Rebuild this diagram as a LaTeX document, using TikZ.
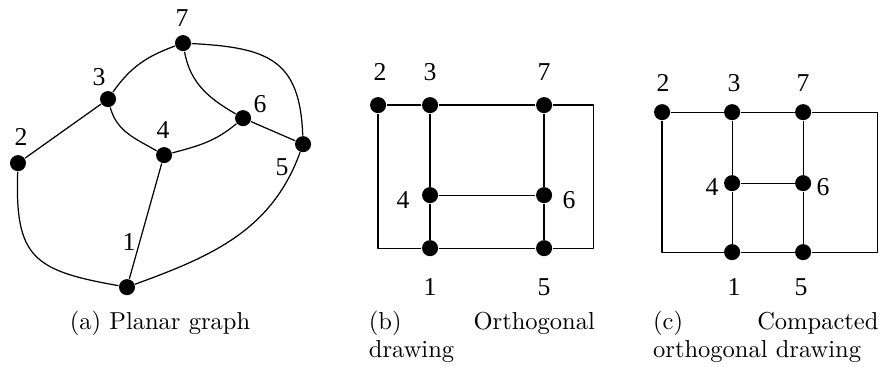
\documentclass[tikz,border=0pt]{standalone}
\usepackage{fontspec}
\newfontfamily\lblfont{Liberation Serif}
\usepackage{tikz}

\tikzset{
  vtx/.style={circle,fill=black,inner sep=0pt,minimum size=2.3mm},
  lbl/.style={font=\lblfont\fontsize{10.5}{12}\selectfont,inner sep=0pt},
  capt/.style={font=\fontsize{10}{11.2}\selectfont,inner sep=0pt,text width=3.24cm,align=left},
}

\begin{document}
\begin{tikzpicture}[line width=0.5pt, line join=round]
  \useasboundingbox (0,0) rectangle (12.66,5.25);
  % (a) planar graph
  \node[vtx] (a1) at (1.821,1.133) {};
  \node[vtx] (a2) at (0.258,2.911) {};
  \node[vtx] (a3) at (1.549,3.829) {};
  \node[vtx] (a4) at (2.352,3.026) {};
  \node[vtx] (a5) at (4.345,3.183) {};
  \node[vtx] (a6) at (3.485,3.556) {};
  \node[vtx] (a7) at (2.624,4.632) {};
  \draw (a2) -- (a3);
  \draw (a3) to[out=55,in=200] (a7);
  \draw (a7) to[out=-80,in=150] (a6);
  \draw (a7) to[out=-3,in=92,looseness=1.35] (a5);
  \draw (a3) to[out=-75,in=150] (a4);
  \draw (a4) to[out=15,in=220] (a6);
  \draw (a6) -- (a5);
  \draw (a4) -- (a1);
  \draw (a2) to[out=-92,in=170,looseness=1.45] (a1);
  \draw (a1) to[out=20,in=250] (a5);
  \node[lbl] (la1) at (1.850,1.778) {1};
  \node[lbl] (la2) at (0.301,3.284) {2};
  \node[lbl] (la3) at (1.420,4.144) {3};
  \node[lbl] (la4) at (2.337,3.384) {4};
  \node[lbl] (la5) at (4.044,2.854) {5};
  \node[lbl] (la6) at (3.728,3.757) {6};
  \node[lbl] (la7) at (2.610,4.990) {7};
  \node[capt,text width=,align=center] (capa) at (2.294,0.617) {(a) Planar graph};

  % (b) orthogonal drawing
  \node[vtx] (b1) at (6.166,1.692) {};
  \node[vtx] (b2) at (5.421,3.743) {};
  \node[vtx] (b3) at (6.166,3.743) {};
  \node[vtx] (b4) at (6.166,2.452) {};
  \node[vtx] (b5) at (7.801,1.692) {};
  \node[vtx] (b6) at (7.801,2.452) {};
  \node[vtx] (b7) at (7.801,3.743) {};
  \coordinate (bne) at (8.504,3.743);
  \coordinate (bse) at (8.504,1.692);
  \coordinate (bsw) at (5.421,1.692);
  \draw (b2) -- (b3) -- (b7) -- (bne) -- (bse) -- (b5) -- (b1) -- (bsw) -- (b2);
  \draw (b3) -- (b4) -- (b1);
  \draw (b7) -- (b6) -- (b5);
  \draw (b4) -- (b6);
  \node[lbl] (lb1) at (6.166,1.133) {1};
  \node[lbl] (lb2) at (5.449,4.216) {2};
  \node[lbl] (lb3) at (6.166,4.216) {3};
  \node[lbl] (lb4) at (5.779,2.380) {4};
  \node[lbl] (lb5) at (7.801,1.133) {5};
  \node[lbl] (lb6) at (8.159,2.380) {6};
  \node[lbl] (lb7) at (7.801,4.216) {7};
  \node[capt] (capb) at (6.91,0.423) {(b)\hfill Orthogonal\\drawing};

  % (c) compacted orthogonal drawing
  \node[vtx] (c1) at (10.497,1.635) {};
  \node[vtx] (c2) at (9.493,3.642) {};
  \node[vtx] (c3) at (10.497,3.642) {};
  \node[vtx] (c4) at (10.497,2.624) {};
  \node[vtx] (c5) at (11.515,1.635) {};
  \node[vtx] (c6) at (11.515,2.624) {};
  \node[vtx] (c7) at (11.515,3.642) {};
  \coordinate (cne) at (12.576,3.642);
  \coordinate (cse) at (12.576,1.635);
  \coordinate (csw) at (9.493,1.635);
  \draw (c2) -- (c3) -- (c7) -- (cne) -- (cse) -- (c5) -- (c1) -- (csw) -- (c2);
  \draw (c3) -- (c4) -- (c1);
  \draw (c7) -- (c6) -- (c5);
  \draw (c4) -- (c6);
  \node[lbl] (lc1) at (10.526,1.133) {1};
  \node[lbl] (lc2) at (9.507,4.058) {2};
  \node[lbl] (lc3) at (10.526,4.058) {3};
  \node[lbl] (lc4) at (10.210,2.567) {4};
  \node[lbl] (lc5) at (11.486,1.133) {5};
  \node[lbl] (lc6) at (11.802,2.567) {6};
  \node[lbl] (lc7) at (11.515,4.058) {7};
  \node[capt,text width=3.23cm] (capc) at (10.98,0.423) {(c)\hfill Compacted\\orthogonal drawing};
\end{tikzpicture}
\end{document}
